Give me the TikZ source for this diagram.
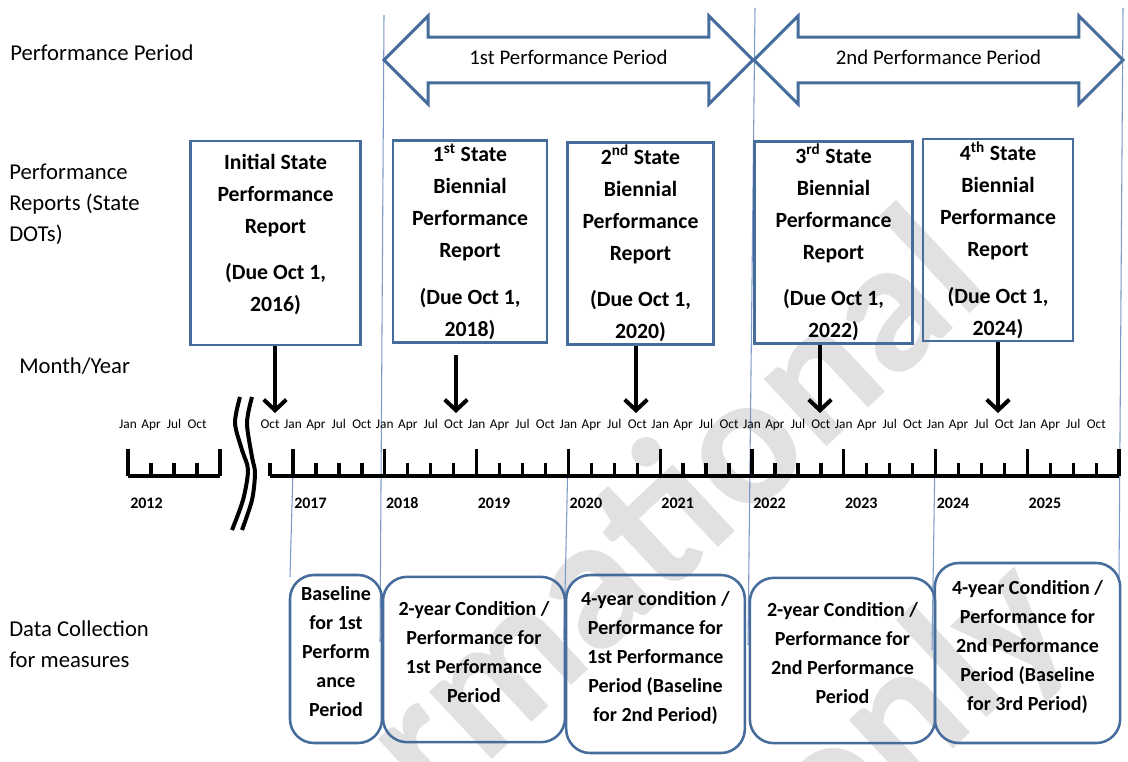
\documentclass[tikz,border=0pt]{standalone}
\usepackage{fontspec}
\setmainfont{Carlito}
\usetikzlibrary{arrows.meta}
\usetikzlibrary{shapes.arrows}

\definecolor{boxblue}{RGB}{70,108,155}
\definecolor{lineblue}{RGB}{125,155,200}
\definecolor{stampgray}{RGB}{225,225,225}

\tikzset{
    report/.style={draw=boxblue, line width=2.2pt, inner sep=0pt, align=center, font=\fontsize{16.3}{24}\selectfont\bfseries},
    datbox/.style={draw=boxblue, line width=1.9pt, rounded corners=18pt, inner sep=0pt, text depth=11pt, align=center, font=\fontsize{15}{21.75}\selectfont\bfseries},
    period/.style={double arrow, draw=boxblue, line width=2.2pt, minimum height=276.75pt, minimum width=64pt, double arrow head extend=16pt, inner xsep=0pt, inner ysep=8.5pt, text height=11pt, text depth=4pt, font=\fontsize{15.6}{18}\selectfont},
    rowlabel/.style={anchor=west, align=left, inner sep=0pt, font=\fontsize{17}{23.25}\selectfont},
    month/.style={anchor=base, inner sep=0pt, font=\fontsize{10}{12}\selectfont},
    year/.style={anchor=west, inner sep=0pt, font=\fontsize{12}{14}\selectfont\bfseries},
    axis/.style={line width=2.5pt},
    due/.style={line width=3pt, -{Straight Barb[length=8pt,width=17pt]}},
    guide/.style={draw=lineblue, line width=0.8pt},
    stamp/.style={inner sep=0pt, text=stampgray, font=\fontsize{142}{142}\selectfont\bfseries},
}

\begin{document}
\begin{tikzpicture}[x=0.75pt,y=-0.75pt]
    \fill[white] (0,0) rectangle (1128,761);
    \useasboundingbox (0,0) rectangle (1128,761);

    % watermark
    \begin{scope}
        \clip (0,0) rectangle (1128,761);
        \node[stamp, anchor=base east, rotate=43] (wm1) at (995,290) {informational};
        \node[stamp, anchor=base east, rotate=43] (wm2) at (1078,633) {only};
    \end{scope}

    % guide lines
    \draw[guide] (293,470) -- (290,577);
    \draw[guide] (384,15) -- (380,642);
    \draw[guide] (568,455) -- (564,640);
    \draw[guide] (755,8) -- (748,645);
    \draw[guide] (935,455) -- (932,650);
    \draw[guide] (1123,8) -- (1119,578);

    % row labels
    \node[rowlabel] (lperiod) at (10,53) {Performance Period};
    \node[rowlabel] (lreports) at (9,204) {Performance\\Reports (State\\DOTs)};
    \node[rowlabel] (lmonth) at (19,366) {Month/Year};
    \node[rowlabel] (ldata) at (9,644) {Data Collection\\for measures};

    % performance periods
    \node[period] (p1) at (568.5,60) {1st Performance Period};
    \node[period] (p2) at (938.5,60) {2nd Performance Period};

    % reports
    \node[report, text depth=15pt, minimum width=128pt, minimum height=153pt] (b0) at (275.5,243) {Initial State\\Performance\\Report\\[11pt](Due Oct 1,\\2016)};
    \node[report, minimum width=115.5pt, minimum height=152pt] (b1) at (470,241.5) {1\textsuperscript{st} State\\Biennial\\Performance\\Report\\[11pt](Due Oct 1,\\2018)};
    \node[report, minimum width=110pt, minimum height=152pt] (b2) at (640.5,243.5) {2\textsuperscript{nd} State\\Biennial\\Performance\\Report\\[11pt](Due Oct 1,\\2020)};
    \node[report, minimum width=119pt, minimum height=151pt] (b3) at (833.5,242.5) {3\textsuperscript{rd} State\\Biennial\\Performance\\Report\\[11pt](Due Oct 1,\\2022)};
    \node[report, minimum width=112.5pt, minimum height=151.5pt] (b4) at (998,240) {4\textsuperscript{th} State\\Biennial\\Performance\\Report\\[11pt](Due Oct 1,\\2024)};

    \coordinate (t16) at (275,413);
    \coordinate (t18) at (456,413);
    \coordinate (t20) at (636,413);
    \coordinate (t22) at (820,413);
    \coordinate (t24) at (998,413);

    % draw the arrows
    \draw[due] (b0.south -| t16) -- (t16);
    \draw[due, shorten <=8pt] (b1.south -| t18) -- (t18);
    \draw[due] (b2.south -| t20) -- (t20);
    \draw[due] (b3.south -| t22) -- (t22);
    \draw[due] (b4.south -| t24) -- (t24);

    % timeline
    \draw[axis] (128,476) -- (220,476);
    \draw[axis] (128,476) -- (128,449);
    \draw[axis] (220,476) -- (220,449);
    \foreach \q in {1,2,3}
        \draw[axis] ({128+23*\q},476) -- ++(0,-13);
    \foreach \m [count=\i from 0] in {Jan,Apr,Jul,Oct}
        \node[month] (s\i) at ({128+23*\i},428) {\m};
    \node[year] (y2012) at (130,503) {2012};

    \draw[line width=3pt] plot[smooth] coordinates {(240,397) (235,423) (242,450) (248,470) (243,500) (232,530)};
    \draw[line width=3pt] plot[smooth] coordinates {(252,397) (247,423) (252,457) (255,473) (252,500) (242,530)};

    \draw[axis] (270,476) -- (1119,476);
    \draw[axis] (270,476) -- (270,463);
    \node[month] (oct16) at (270,428) {Oct};
    \foreach \k in {0,...,8} {
        \draw[axis] ({293+91.8*\k},476) -- ++(0,-27);
        \foreach \q in {1,2,3}
            \draw[axis] ({293+91.8*\k+22.95*\q},476) -- ++(0,-13);
        \foreach \m [count=\i from 0] in {Jan,Apr,Jul,Oct}
            \node[month] (m\k\i) at ({293+91.8*\k+22.95*\i},428) {\m};
    }
    \draw[axis] (1119,476) -- (1119,449);
    \foreach \y [count=\k from 0] in {2017,...,2025}
        \node[year] (y\y) at ({294+91.8*\k},503) {\y};

    % data collection
    \node[datbox, minimum width=69pt, minimum height=126pt] (d1) at (336,659) {Baseline\\for 1st\\Perform\\ance\\Period};
    \node[datbox, minimum width=136.5pt, minimum height=124pt] (d2) at (474,659.5) {2-year Condition /\\Performance for\\1st Performance\\Period};
    \node[datbox, minimum width=134pt, minimum height=133.5pt] (d3) at (655.5,664) {4-year condition /\\Performance for\\1st Performance\\Period (Baseline\\for 2nd Period)};
    \node[datbox, minimum width=139pt, minimum height=124pt] (d4) at (842.5,660.5) {2-year Condition /\\Performance for\\2nd Performance\\Period};
    \node[datbox, minimum width=139pt, minimum height=135pt] (d5) at (1027.5,653) {4-year Condition /\\Performance for\\2nd Performance\\Period (Baseline\\for 3rd Period)};
\end{tikzpicture}
\end{document}
